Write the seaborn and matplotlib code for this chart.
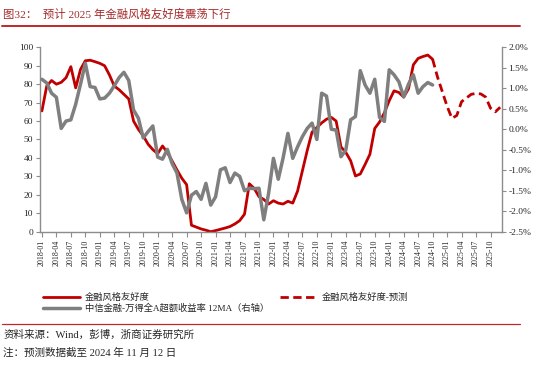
# 金融风格友好度 vs 中信金融-万得全A超额收益率 12MA
import pandas as pd
import matplotlib.pyplot as plt
import seaborn as sns
from matplotlib.lines import Line2D
from matplotlib.ticker import FuncFormatter, MultipleLocator

# Datos, mensuales desde 2018-01
months = pd.period_range('2018-01', '2025-12', freq='M').strftime('%Y-%m')

# 金融风格友好度 (eje izquierdo), 2018-01 .. 2024-10
friendly = [65.5, 79, 82, 80, 81, 83.5, 89.5, 78, 88, 92.7,
            93, 92.2, 91.3, 90, 85, 79, 77, 74.5, 72, 60,
            55.5, 52, 47.5, 44.5, 42.3, 46.5, 43, 38.3, 33.5, 29,
            25.5, 3.5, 2.5, 1.5, 0.8, 0, 0.6, 1.3, 2, 2.8,
            4.2, 6, 9.5, 26, 23.5, 19, 17.5, 15, 16.8, 15.5,
            15, 16.5, 15.5, 22, 33, 44, 54, 56.5, 59, 61,
            62, 60, 46, 43, 38.5, 30.2, 31.3, 36.5, 42, 56,
            59.5, 64.5, 71, 76.4, 75.5, 73, 77.5, 90.5, 94, 95,
            95.8, 93.5]

# 金融风格友好度-预测, 2024-10 .. 2025-12
forecast = [93.5, 84, 76, 68, 61.5, 63, 70.5, 72.5, 74.5, 75,
            74.7, 73, 67, 65, 67.5]

# 中信金融-万得全A超额收益率 12MA (eje derecho, %), 2018-01 .. 2024-10
excess = [1.22, 1.13, 0.88, 0.78, 0.02, 0.20, 0.23, 0.61, 1.10, 1.61,
          1.04, 1.02, 0.74, 0.76, 0.88, 1.06, 1.26, 1.39, 1.19, 0.47,
          0.27, -0.21, -0.06, 0.08, -0.68, -0.73, -0.49, -0.84, -1.07, -1.71,
          -2.04, -1.61, -1.52, -1.71, -1.32, -1.85, -1.65, -0.99, -0.94, -1.30,
          -1.07, -1.15, -1.50, -1.44, -1.45, -1.44, -2.21, -1.56, -0.71, -1.22,
          -0.70, -0.10, -0.71, -0.43, -0.18, 0.02, 0.15, -0.25, 0.88, 0.81,
          0.00, -0.02, -0.67, -0.51, 0.23, 0.31, 1.43, 1.08, 0.88, 1.22,
          0.29, 0.19, 1.45, 1.33, 1.16, 0.79, 1.10, 1.33, 0.88, 1.04,
          1.14, 1.08]

labels = ['金融风格友好度', '金融风格友好度-预测', '中信金融-万得全A超额收益率 12MA（右轴）']

df_act = pd.DataFrame({'i': range(len(friendly)), 'v': friendly})
df_fc = pd.DataFrame({'i': range(len(friendly) - 1, len(friendly) - 1 + len(forecast)), 'v': forecast})
df_ex = pd.DataFrame({'i': range(len(excess)), 'v': excess})

sns.set_theme(style='ticks')
plt.rcParams['font.family'] = ['Liberation Serif', 'Noto Sans CJK SC']
plt.rcParams['axes.unicode_minus'] = False

red = '#C00000'
grey = '#7F7F7F'
axis_col = '#8C8C8C'

fig, ax = plt.subplots(figsize=(5.5, 3.71), dpi=100)
fig.subplots_adjust(left=0.0727, right=0.912, bottom=0.3755, top=0.8725)
ax2 = ax.twinx()

sns.lineplot(data=df_act, x='i', y='v', ax=ax, color=red, lw=2, label=labels[0])
sns.lineplot(data=df_fc, x='i', y='v', ax=ax, color=red, lw=2, dashes=False, label=labels[1])
ax.lines[-1].set_dashes((3, 1.6))
sns.lineplot(data=df_ex, x='i', y='v', ax=ax2, color=grey, lw=2.5, label=labels[2])

# Ejes
ax.set_xlim(-0.4, 95.3)
ax.set_ylim(0, 100)
ax2.set_ylim(-2.5, 2.0)
ax.yaxis.set_major_locator(MultipleLocator(10))
ax2.yaxis.set_major_locator(MultipleLocator(0.5))
ax2.yaxis.set_major_formatter(FuncFormatter(lambda v, p: f'{v + 0.0:.1f}%'.replace('-0.0%', '0.0%')))
xt = list(range(0, 94, 3))
ax.set_xticks(xt)
ax.set_xticklabels([months[k] for k in xt], rotation=90, fontsize=5.8)
ax.set_xlabel('')
ax.set_ylabel('')
ax2.set_ylabel('')
ax.tick_params(axis='y', labelsize=6.8, length=3, width=0.8, color=axis_col, pad=2)
ax.tick_params(axis='x', length=3.5, width=0.8, color=axis_col, pad=2)
ax2.tick_params(axis='y', labelsize=6.8, length=3, width=0.8, color=axis_col, pad=2)
for a in (ax, ax2):
    a.spines['top'].set_visible(False)
    for s in a.spines.values():
        s.set_color(axis_col)
        s.set_linewidth(1)
ax.spines['right'].set_visible(False)
ax2.spines['left'].set_visible(False)
ax2.spines['bottom'].set_visible(False)

# Leyenda
h1, l1 = ax.get_legend_handles_labels()
h2, l2 = ax2.get_legend_handles_labels()
ax.get_legend().remove()
ax2.get_legend().remove()
handles = [h1[0], h2[0], h1[1]]
fig.legend(handles, [labels[0], labels[2], labels[1]], ncol=2, loc='upper left',
           bbox_to_anchor=(0.078, 1 - 293 / 371), frameon=False, fontsize=6.7,
           handlelength=4.0, handletextpad=0.5, columnspacing=1.2,
           labelspacing=0.15, borderpad=0, borderaxespad=0)

# Título y notas
fig.text(0.006, 1 - 14 / 371, '图32：  预计 2025 年金融风格友好度震荡下行',
         fontsize=8.2, color='#A52A2A', va='center')
fig.add_artist(Line2D([0.003, 0.946], [1 - 25.5 / 371] * 2, transform=fig.transFigure,
                      color='#C0282A', lw=1.4))
fig.add_artist(Line2D([0.003, 0.946], [1 - 324 / 371] * 2, transform=fig.transFigure,
                      color='#C0282A', lw=0.9))
fig.text(0.006, 1 - 334.5 / 371, '资料来源：Wind，彭博，浙商证券研究所', fontsize=7.6, va='center')
fig.text(0.006, 1 - 353 / 371, '注：预测数据截至 2024 年 11 月 12 日', fontsize=7.6, va='center')

plt.savefig('out.png', dpi=100)
